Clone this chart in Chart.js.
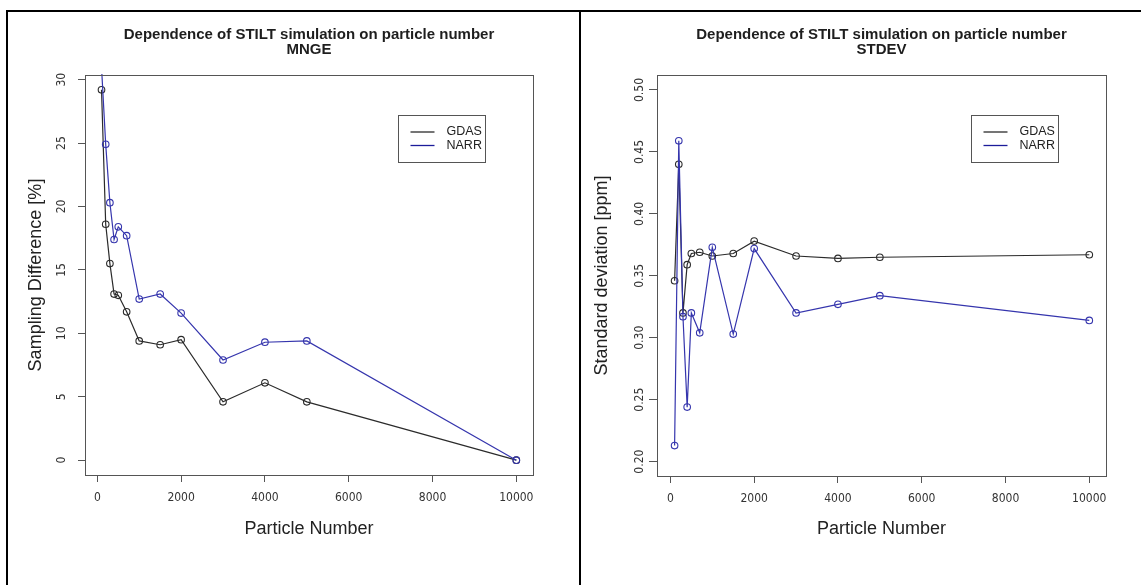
<!DOCTYPE html>
<html>
<head>
<meta charset="utf-8">
<script src="https://cdn.jsdelivr.net/npm/chart.js@4.4.1/dist/chart.umd.min.js"></script>
<style>
  body { margin: 0; background: #fff; }
  #page { position: relative; width: 1141px; height: 585px; overflow: hidden; background: #fff; }
  canvas { position: absolute; top: 0; }
  #mnge { left: 0; }
  #stdev { left: 580px; }
  .rule { position: absolute; background: #000; }
</style>
</head>
<body>
<div id="page">
  <canvas id="mnge" width="580" height="585"></canvas>
  <canvas id="stdev" width="561" height="585"></canvas>
  <div class="rule" style="left:6px;top:10px;width:1135px;height:2px"></div>
  <div class="rule" style="left:6px;top:10px;width:2px;height:575px"></div>
  <div class="rule" style="left:579px;top:10px;width:2px;height:575px"></div>
</div>
<script>
// particle counts used for each STILT run
const particleNumbers = [100, 200, 300, 400, 500, 700, 1000, 1500, 2000, 3000, 4000, 5000, 10000];

// mean normalised gross error [%]
const mngeGdas = [29.2, 18.6, 15.5, 13.1, 13.0, 11.7, 9.4, 9.1, 9.5, 4.6, 6.1, 4.6, 0.0];
const mngeNarr = [31.0, 24.9, 20.3, 17.4, 18.4, 17.7, 12.7, 13.1, 11.6, 7.9, 9.3, 9.4, 0.0];

// standard deviation [ppm]
const stdevGdas = [0.346, 0.440, 0.320, 0.359, 0.368, 0.369, 0.366, 0.368, 0.378, 0.366, 0.364, 0.365, 0.367];
const stdevNarr = [0.213, 0.459, 0.317, 0.244, 0.320, 0.304, 0.373, 0.303, 0.372, 0.320, 0.327, 0.334, 0.314];

const xTicks = [0, 2000, 4000, 6000, 8000, 10000];
const mngeTicks = [0, 5, 10, 15, 20, 25, 30];
const stdevTicks = [0.20, 0.25, 0.30, 0.35, 0.40, 0.45, 0.50];

const seriesNames = ['GDAS', 'NARR'];
const seriesColors = ['#2b2b2b', '#3535ad'];

const sansFamily = "'Liberation Sans', Arial, Helvetica, sans-serif";
const narrowFamily = "'Liberation Sans Narrow', 'DejaVu Sans Condensed', 'Liberation Sans', sans-serif";

Chart.defaults.font.family = sansFamily;
Chart.defaults.color = '#333';

const tickFont = { family: narrowFamily, size: 12 };

// box round the plot region
const plotBox = {
  id: 'plotBox',
  afterDraw(chart) {
    const { ctx, chartArea: a } = chart;
    ctx.save();
    ctx.strokeStyle = '#555';
    ctx.lineWidth = 1;
    ctx.strokeRect(Math.round(a.left) + 0.5, Math.round(a.top) + 0.5,
      Math.round(a.right - a.left), Math.round(a.bottom - a.top));
    ctx.restore();
  },
};

// legend box inside the top right corner of the plot
const insetLegend = {
  id: 'insetLegend',
  afterDraw(chart) {
    const { ctx, chartArea: a } = chart;
    const w = 87;
    const h = 47;
    const x = Math.round(a.right - 48 - w) + 0.5;
    const y = Math.round(a.top + 40) + 0.5;
    ctx.save();
    ctx.fillStyle = '#fff';
    ctx.fillRect(x, y, w, h);
    ctx.strokeStyle = '#555';
    ctx.lineWidth = 1;
    ctx.strokeRect(x, y, w, h);
    ctx.font = '12.5px ' + sansFamily;
    ctx.textBaseline = 'middle';
    chart.data.datasets.forEach((ds, i) => {
      const ly = y + 16.5 + i * 13.5;
      ctx.strokeStyle = i === 1 ? '#1c1c9a' : ds.borderColor;
      ctx.lineWidth = 1.3;
      ctx.beginPath();
      ctx.moveTo(x + 12, ly);
      ctx.lineTo(x + 36, ly);
      ctx.stroke();
      ctx.fillStyle = '#222';
      ctx.fillText(ds.label, x + 48, ly);
    });
    ctx.restore();
  },
};

function series(name, values, color, order) {
  return {
    label: name,
    data: particleNumbers.map((n, i) => ({ x: n, y: values[i] })),
    borderColor: color,
    borderWidth: 1.2,
    pointStyle: 'circle',
    pointRadius: 3.3,
    pointBorderWidth: 1.1,
    pointBorderColor: color,
    pointBackgroundColor: 'rgba(0,0,0,0)',
    tension: 0,
    clip: 1,
    order: order,
  };
}

function makeChart(id, cfg) {
  return new Chart(document.getElementById(id), {
    type: 'line',
    data: {
      datasets: [
        series(seriesNames[0], cfg.gdas, seriesColors[0], 2),
        series(seriesNames[1], cfg.narr, seriesColors[1], 1),
      ],
    },
    options: {
      responsive: false,
      animation: false,
      devicePixelRatio: 1,
      events: [],
      layout: { padding: { top: 0, left: 0, bottom: 0, right: cfg.padRight } },
      plugins: {
        legend: { display: false },
        tooltip: { enabled: false },
        title: {
          display: true,
          fullSize: false,
          text: ['Dependence of STILT simulation on particle number', cfg.name],
          color: '#1e1e1e',
          font: { size: 15, weight: 'bold', lineHeight: 1 },
          padding: { top: 27, bottom: 18 },
        },
      },
      scales: {
        x: {
          type: 'linear',
          min: cfg.xMin,
          max: cfg.xMax,
          afterBuildTicks: (s) => { s.ticks = xTicks.map((v) => ({ value: v })); },
          afterFit: (s) => { s.height = cfg.xHeight; },
          ticks: {
            font: tickFont,
            color: '#333',
            padding: 9,
            maxRotation: 0,
            callback: (v) => String(v),
          },
          grid: { drawOnChartArea: false, tickLength: 7, color: '#555' },
          border: { display: false },
          title: {
            display: true,
            text: 'Particle Number',
            font: { size: 18 },
            color: '#222',
            padding: { top: 0, bottom: 45 },
          },
        },
        y: {
          type: 'linear',
          min: cfg.yMin,
          max: cfg.yMax,
          afterBuildTicks: (s) => { s.ticks = cfg.yTicks.map((v) => ({ value: v })); },
          afterFit: (s) => { s.width = cfg.yWidth; },
          ticks: {
            font: tickFont,
            color: '#333',
            minRotation: 90,
            maxRotation: 90,
            crossAlign: 'center',
            padding: cfg.yTickPad,
            callback: cfg.yFormat,
          },
          grid: { drawOnChartArea: false, tickLength: cfg.yTickLen, color: '#555' },
          border: { display: false },
          title: {
            display: true,
            text: cfg.yTitle,
            font: { size: 18 },
            color: '#222',
            padding: { top: cfg.yTitlePad, bottom: 0 },
          },
        },
      },
    },
    plugins: [plotBox, insetLegend],
  });
}

makeChart('mnge', {
  name: 'MNGE',
  gdas: mngeGdas,
  narr: mngeNarr,
  padRight: 47,
  xHeight: 110,
  xMin: -294,
  xMax: 10398,
  yMin: -1.168,
  yMax: 30.368,
  yTicks: mngeTicks,
  yFormat: (v) => String(v),
  yWidth: 85,
  yTickLen: 7,
  yTickPad: 9.5,
  yTitle: 'Sampling Difference [%]',
  yTitlePad: 25,
});

makeChart('stdev', {
  name: 'STDEV',
  gdas: stdevGdas,
  narr: stdevNarr,
  padRight: 35,
  xHeight: 109,
  xMin: -320,
  xMax: 10399,
  yMin: 0.1884,
  yMax: 0.5121,
  yTicks: stdevTicks,
  yFormat: (v) => v.toFixed(2),
  yWidth: 77,
  yTickLen: 8,
  yTickPad: -3,
  yTitle: 'Standard deviation [ppm]',
  yTitlePad: 11,
});
</script>
</body>
</html>
